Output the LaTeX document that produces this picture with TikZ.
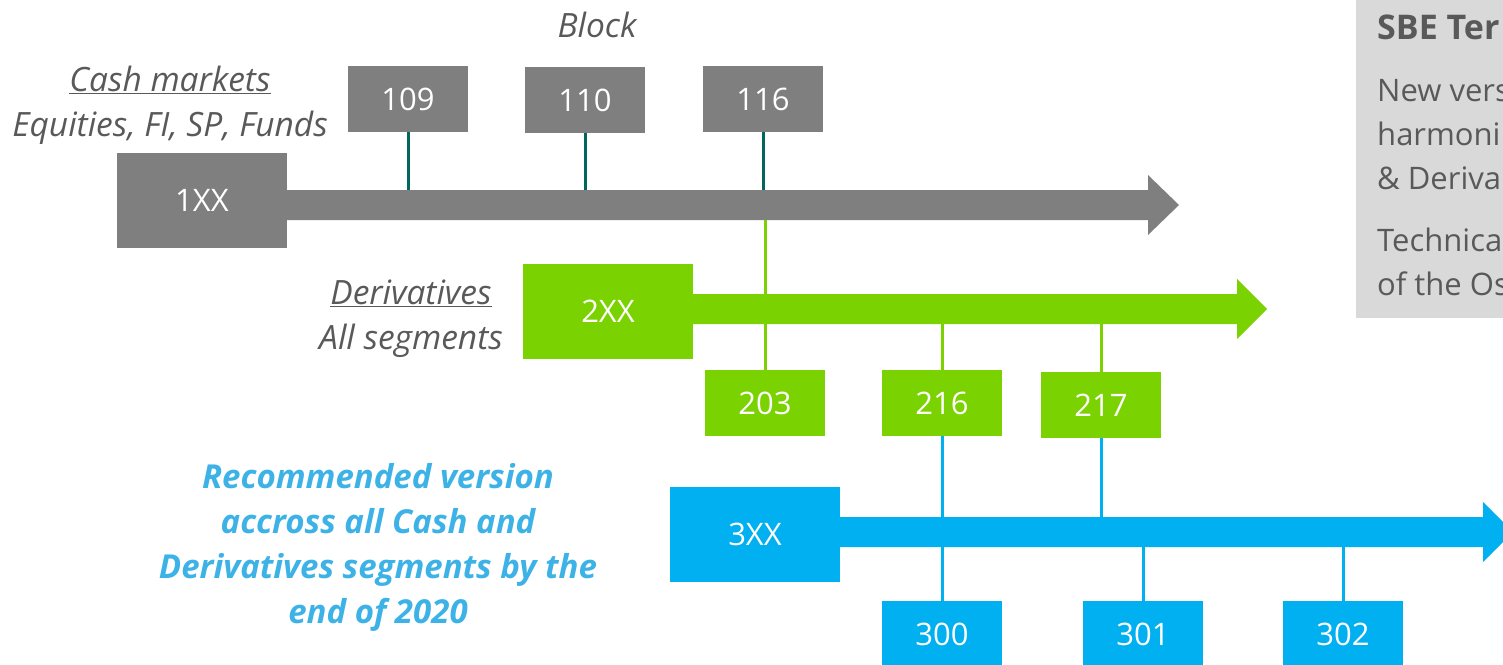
\documentclass[tikz,border=0pt]{standalone}
\usepackage{fontspec}
\setmainfont{Open Sans}

\definecolor{boxgrey}{RGB}{127,127,127}
\definecolor{boxgreen}{RGB}{122,210,0}
\definecolor{boxblue}{RGB}{0,176,240}
\definecolor{linkteal}{RGB}{0,102,94}
\definecolor{labelgrey}{RGB}{89,89,89}
\definecolor{notecyan}{RGB}{61,178,230}
\definecolor{panelgrey}{RGB}{217,217,217}

\tikzset{
  bigbox/.style={fill=#1,text=white,minimum width=170,minimum height=95,inner sep=0pt,font=\fontsize{31}{31}\selectfont},
  smallbox/.style={fill=#1,text=white,minimum width=120,minimum height=66,inner sep=0pt,font=\fontsize{31}{31}\selectfont},
  link/.style={line width=3,draw=#1},
  sidetext/.style={text=labelgrey,align=center,inner sep=0pt,font=\fontsize{33.5}{45}\selectfont\itshape},
  notetext/.style={text=notecyan,align=center,inner sep=0pt,font=\fontsize{33}{45}\selectfont\bfseries\itshape},
  paneltext/.style={text=labelgrey,anchor=base west,inner sep=0pt,font=\fontsize{31}{36}\selectfont},
}

\begin{document}
\begin{tikzpicture}[x=1pt,y=-1pt]
            \useasboundingbox (0,0) rectangle (1503,664);
            \clip (0,0) rectangle (1503,664);
            % shaft edges
            \coordinate (greytop) at (0,190);
            \coordinate (greybot) at (0,220);
            \coordinate (greentop) at (0,294);
            \coordinate (bluetop) at (0,517);
            \coordinate (bluebot) at (0,547);
            % grey timeline
            \fill [boxgrey] (200,190) -- (1148,190) -- (1148,175) -- (1179,205) -- (1148,235) -- (1148,220) -- (200,220) -- cycle;
            % green timeline
            \fill [boxgreen] (600,294) -- (1237,294) -- (1237,279) -- (1267,309) -- (1237,339) -- (1237,324) -- (600,324) -- cycle;
            % blue timeline
            \fill [boxblue] (750,517) -- (1483,517) -- (1483,502) -- (1513,532) -- (1483,562) -- (1483,547) -- (750,547) -- cycle;
            % start boxes
            \node [bigbox=boxgrey] (n1xx) at (202,200) {1XX};
            \node [bigbox=boxgreen] (n2xx) at (608,311) {2XX};
            \node [bigbox=boxblue] (n3xx) at (755,534) {3XX};
            % cash versions
            \node [smallbox=boxgrey] (n109) at (408,99) {109};
            \node [smallbox=boxgrey] (n110) at (585,100) {110};
            \node [smallbox=boxgrey] (n116) at (763,99) {116};
            % derivatives versions
            \node [smallbox=boxgreen] (n203) at (765,403) {203};
            \node [smallbox=boxgreen] (n216) at (942,403) {216};
            \node [smallbox=boxgreen] (n217) at (1101,405) {217};
            % harmonised versions
            \node [smallbox=boxblue] (n300) at (942,634) {300};
            \node [smallbox=boxblue] (n301) at (1143,634) {301};
            \node [smallbox=boxblue] (n302) at (1343,634) {302};
            % connectors
            \draw [link=linkteal] (n109.south) -- (n109.south |- greytop);
            \draw [link=linkteal] (n110.south) -- (n110.south |- greytop);
            \draw [link=linkteal] (n116.south) -- (n116.south |- greytop);
            \draw [link=boxgreen] (n203.north) -- (n203.north |- greybot);
            \draw [link=boxgreen] (n216.north) -- (n216.north |- greentop);
            \draw [link=boxgreen] (n217.north) -- (n217.north |- greentop);
            \draw [link=boxblue] (n216.south) -- (n300.north);
            \draw [link=boxblue] (n217.south) -- (n217.south |- bluetop);
            \draw [link=boxblue] (n301.north) -- (n301.north |- bluebot);
            \draw [link=boxblue] (n302.north) -- (n302.north |- bluebot);
            % side labels
            \node [sidetext] (block) at (597,25) {Block};
            \node [sidetext] (cash) at (170,105) {\underline{Cash markets}\\Equities, FI, SP, Funds};
            \node [sidetext] (deriv) at (411,319) {\underline{Derivatives}\\All segments};
            \node [notetext] (reco) at (378,547) {Recommended version\\accross all Cash and\\Derivatives segments by the\\end of 2020};
            % SBE panel
            \fill [panelgrey] (1356,-5) rectangle (1520,318);
            \node [paneltext,font=\fontsize{34}{36}\selectfont\bfseries] (sbe) at (1377,39) {SBE Ter};
            \node [paneltext] (p1) at (1377,101) {New vers};
            \node [paneltext] (p2) at (1377,145) {harmoni};
            \node [paneltext] (p3) at (1377,189) {\& Deriva};
            \node [paneltext] (p4) at (1377,251) {Technica};
            \node [paneltext] (p5) at (1377,295) {of the Os};
         \end{tikzpicture}
\end{document}
